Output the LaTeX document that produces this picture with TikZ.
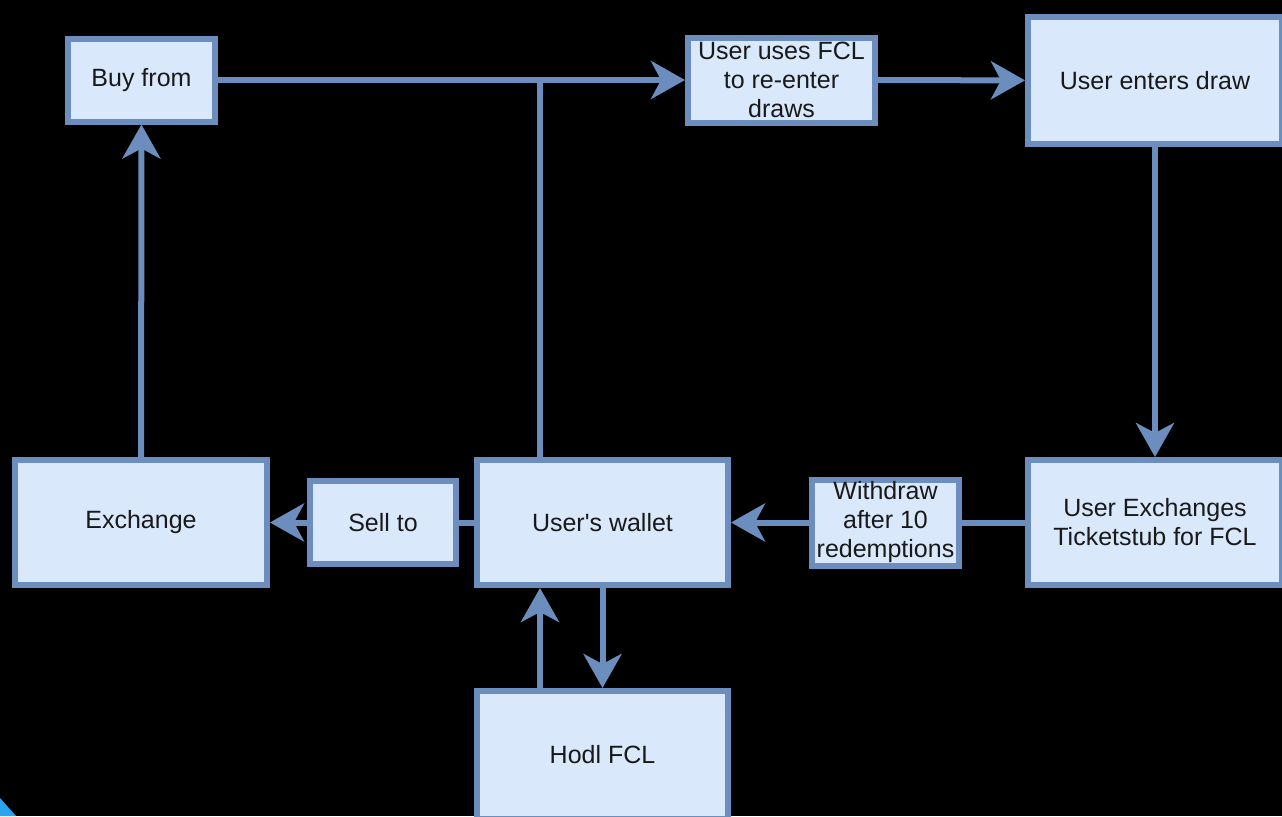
\documentclass[tikz,border=0pt]{standalone}
\usepackage{fontspec}
\setmainfont{Liberation Sans}
\usetikzlibrary{arrows.meta}
\definecolor{boxblue}{HTML}{6C8EBF}
\definecolor{boxfill}{HTML}{DAE8FC}
\definecolor{cornerblue}{HTML}{2AA3F0}
\tikzset{
  box/.style = {draw=boxblue, fill=boxfill, line width=3pt, inner sep=0,
    align=center, text=black!90, font=\fontsize{12.5}{14.5}\selectfont},
  link/.style = {draw=boxblue, line width=3pt},
  tip/.style = {link, -{Stealth[length=17pt, width=19pt, inset=5pt]}}
}

\begin{document}
\begin{tikzpicture}[x=0.5pt, y=-0.5pt]
  \fill[black] (0,0) rectangle (1282,816);
  \useasboundingbox (0,0) rectangle (1282,816);
  \clip (0,0) rectangle (1282,816);
  \fill[cornerblue] (0,798) -- (16,816) -- (0,816) -- cycle;

  \node[box, minimum width=73.5pt, minimum height=41.5pt] (buy) at (141.5,80) {Buy from};
  \node[box, minimum width=93.5pt, minimum height=42.5pt] (fcl) at (781.5,80) {User uses FCL\\to re-enter\\draws};
  \node[box, minimum width=127pt, minimum height=63.5pt] (enter) at (1155,80.5) {User enters draw};
  \node[box, minimum width=126pt, minimum height=62.5pt] (exch) at (141,522.5) {Exchange};
  \node[box, minimum width=73pt, minimum height=41.5pt] (sell) at (383,522.5) {Sell to};
  \node[box, minimum width=125.5pt, minimum height=62.5pt] (wallet) at (602.5,522.5) {User\textquotesingle s wallet};
  \node[box, minimum width=73.5pt, minimum height=43pt] (wd) at (885.5,522.5) {Withdraw\\after 10\\redemptions};
  \node[box, minimum width=127pt, minimum height=62.5pt] (stub) at (1155,522.5) {User Exchanges\\Ticketstub for FCL};
  \node[box, minimum width=125.5pt, minimum height=64pt] (hodl) at (602.5,755) {Hodl FCL};
  \coordinate (j) at (540,80);

  \draw[tip] (exch) -- (buy);
  \draw[tip] (buy) -- (fcl);
  \draw[link] (wallet.north -| j) -- (j);
  \draw[tip] (fcl) -- (enter);
  \draw[tip] (enter) -- (stub);
  \draw[link] (stub) -- (wd);
  \draw[tip] (wd) -- (wallet);
  \draw[link] (wallet) -- (sell);
  \draw[tip] (sell) -- (exch);
  \draw[tip] (wallet) -- (hodl);
  \draw[tip] (hodl.north -| j) -- (wallet.south -| j);
\end{tikzpicture}
\end{document}
